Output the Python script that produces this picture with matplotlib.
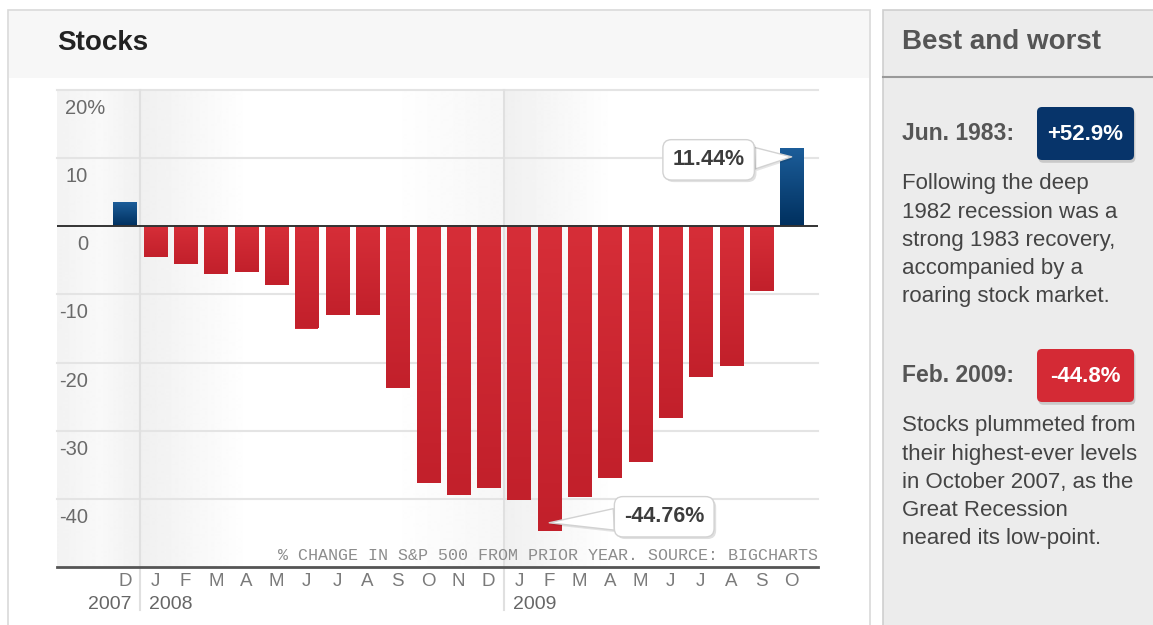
import numpy as np
import matplotlib
matplotlib.use('Agg')
import matplotlib.pyplot as plt
from matplotlib.patches import Rectangle, FancyBboxPatch
from matplotlib.lines import Line2D
from matplotlib.transforms import Affine2D
from matplotlib.colors import LinearSegmentedColormap
from matplotlib import patheffects

plt.rcParams['font.family'] = ['Liberation Sans', 'DejaVu Sans']

# S&P 500, % change from prior year, Dec 2007 - Oct 2009
months = ['D', 'J', 'F', 'M', 'A', 'M', 'J', 'J', 'A', 'S', 'O', 'N', 'D',
          'J', 'F', 'M', 'A', 'M', 'J', 'J', 'A', 'S', 'O']
changes = [3.4, -4.5, -5.6, -7.0, -6.7, -8.6, -15.0, -13.0, -13.0, -23.8,
           -37.6, -39.5, -38.4, -40.1, -44.76, -39.8, -37.0, -34.6, -28.2,
           -22.1, -20.5, -9.5, 11.44]
year_labels = ['2007', '2008', '2009']
year_pos = [0, 1, 13]
ytick_vals = [20, 10, 0, -10, -20, -30, -40]
ytick_labels = ['20%', '10', '0', '-10', '-20', '-30', '-40']

note_dates = ['Jun. 1983:', 'Feb. 2009:']
note_values = ['+52.9%', '-44.8%']
note_colors = ['#07346a', '#d42a35']
note_text = [['Following the deep', '1982 recession was a', 'strong 1983 recovery,',
              'accompanied by a', 'roaring stock market.'],
             ['Stocks plummeted from', 'their highest-ever levels', 'in October 2007, as the',
              'Great Recession', 'neared its low-point.']]

W, H = 1153, 625
fig = plt.figure(figsize=(W / 100, H / 100), dpi=100)
fig.patch.set_facecolor('white')
# pixel coords, origin top left
T = Affine2D().scale(1 / W, -1 / H).translate(0, 1) + fig.transFigure


def rect(x0, y0, x1, y1, **kw):
    fig.add_artist(Rectangle((x0, y0), x1 - x0, y1 - y0, transform=T, zorder=-2, **kw))


# panels
rect(8, 10, 870, 660, fc='white', ec='#d9d9d9', lw=1.2)
rect(9, 11, 869, 78, fc='#f7f7f7', ec='none')
rect(883, 10, 1170, 660, fc='#ececec', ec='#cfcfcf', lw=1.2)
fig.add_artist(Line2D([883, 1153], [77, 77], transform=T, color='#999999', lw=1.5))

fig.text(57, 43, 'Stocks', transform=T, fontsize=20, fontweight='bold',
         color='#222222', va='center')
fig.text(902, 42, 'Best and worst', transform=T, fontsize=20, fontweight='bold',
         color='#555555', va='center')

# chart
ax = fig.add_axes([57 / W, (H - 567) / H, (818 - 57) / W, (567 - 90) / H])
x0, x1 = -2.244, 22.87
y0, y1 = -50, 20

px = np.linspace(57, 818, 762)
shade = np.interp(px, [57, 100, 139, 140, 250, 390, 503, 505, 615, 818],
                  [0.95, 0.975, 0.945, 0.94, 1.0, 1.0, 0.965, 0.94, 1.0, 1.0])
ax.imshow(shade[None, :], cmap='gray', vmin=0, vmax=1, extent=(x0, x1, y0, y1),
          aspect='auto', interpolation='bilinear', zorder=0)

idx = np.arange(len(changes))
colors = ['#0b4582' if v > 0 else '#d22a34' for v in changes]
bars = ax.bar(idx, changes, width=0.76, color=colors, zorder=3)

red_cm = LinearSegmentedColormap.from_list('red_bar', ['#d62e38', '#c2202b'])
blue_cm = LinearSegmentedColormap.from_list('blue_bar', ['#1c5d99', '#00305f'])
for b, v in zip(bars, changes):
    top, bot = max(v, 0), min(v, 0)
    cm = blue_cm if v > 0 else red_cm
    ax.imshow(np.linspace(0, 1, 64)[:, None], cmap=cm,
              extent=(b.get_x(), b.get_x() + b.get_width(), bot, top),
              aspect='auto', zorder=3.5)

for v in ytick_vals:
    if v != 0:
        ax.axhline(v, color='#e4e4e4', lw=1.5, zorder=1, clip_on=False)
ax.axhline(0, color='#333333', lw=1.4, zorder=4)
for s in [0.5, 12.5]:
    ax.axvline(s, ymin=-0.09, ymax=1, color='#e0e0e0', lw=1.5, clip_on=False, zorder=1)

ax.set_xlim(x0, x1)
ax.set_ylim(y0, y1)
ax.patch.set_visible(False)
for sp in ['left', 'right', 'top']:
    ax.spines[sp].set_visible(False)
ax.spines['bottom'].set_color('#555555')
ax.spines['bottom'].set_linewidth(2)
ax.spines['bottom'].set_zorder(5)

ax.set_yticks([])
ax.set_xticks(idx)
ax.set_xticklabels(months, fontsize=13.5, color='#7a7a7a')
ax.tick_params(axis='x', length=0, pad=4)

for v, lab in zip(ytick_vals, ytick_labels):
    xpx = 105 if lab.endswith('%') else 88
    ax.annotate(lab, xy=(xpx, v), xycoords=('figure pixels', 'data'),
                xytext=(0, -9), textcoords='offset pixels', ha='right', va='top',
                fontsize=14.5, color='#6a6a6a', zorder=2)

for i, lab in zip(year_pos, year_labels):
    if i == 0:
        ax.annotate(lab, xy=(i, 0), xycoords=('data', 'axes fraction'), xytext=(7, -29),
                    textcoords='offset pixels', ha='right', va='top', fontsize=14,
                    color='#666666', annotation_clip=False)
    else:
        ax.annotate(lab, xy=(i, 0), xycoords=('data', 'axes fraction'), xytext=(-6, -29),
                    textcoords='offset pixels', ha='left', va='top', fontsize=14,
                    color='#666666', annotation_clip=False)

ax.annotate('% CHANGE IN S&P 500 FROM PRIOR YEAR. SOURCE: BIGCHARTS', xy=(1, 0),
            xycoords='axes fraction', xytext=(0, 12), textcoords='offset pixels',
            ha='right', va='center', fontsize=12, family='Liberation Mono',
            color='#8c8c8c', zorder=2)


def callout(i, dx, dy):
    v = changes[i]
    a = ax.annotate(f'{v:.2f}%', xy=(i, v - np.sign(v) * 1.25), xytext=(dx, dy),
                    textcoords='offset pixels', ha='center', va='center',
                    fontsize=15.5, fontweight='bold', color='#3c3c3c', zorder=6,
                    bbox=dict(boxstyle='round,pad=0.45,rounding_size=0.4', fc='white',
                              ec='#d2d2d2', lw=1),
                    arrowprops=dict(arrowstyle='wedge,tail_width=1.0,shrink_factor=0.5',
                                    fc='white', ec='#d2d2d2', lw=1, shrinkA=0, shrinkB=0))
    a.get_bbox_patch().set_path_effects([
        patheffects.withSimplePatchShadow(offset=(1.5, -1.5), shadow_rgbFace='k', alpha=0.12)])
    a.arrow_patch.set_path_effects([
        patheffects.withSimplePatchShadow(offset=(1, -1.5), shadow_rgbFace='k', alpha=0.1)])


callout(len(changes) - 1, -83, -3)
callout(int(np.argmin(changes)), 115, 6)

# best and worst notes
for k, y in enumerate([134, 376]):
    fig.text(902, y, note_dates[k], transform=T, fontsize=16.5, fontweight='bold',
             color='#555555', va='center')
    badge = FancyBboxPatch((1037, y - 27), 97, 53, boxstyle='round,pad=0,rounding_size=5',
                           transform=T, fc=note_colors[k], ec='none', zorder=2)
    badge.set_path_effects([patheffects.withSimplePatchShadow(offset=(1, -2),
                                                              shadow_rgbFace='k', alpha=0.15)])
    fig.add_artist(badge)
    fig.text(1085.5, y, note_values[k], transform=T, fontsize=16, fontweight='bold',
             color='white', ha='center', va='center', zorder=3)
    for j, line in enumerate(note_text[k]):
        fig.text(902, y + 50 + j * 28.2, line, transform=T, fontsize=16,
                 color='#444444', va='center')

fig.savefig('out.png', dpi=100)
